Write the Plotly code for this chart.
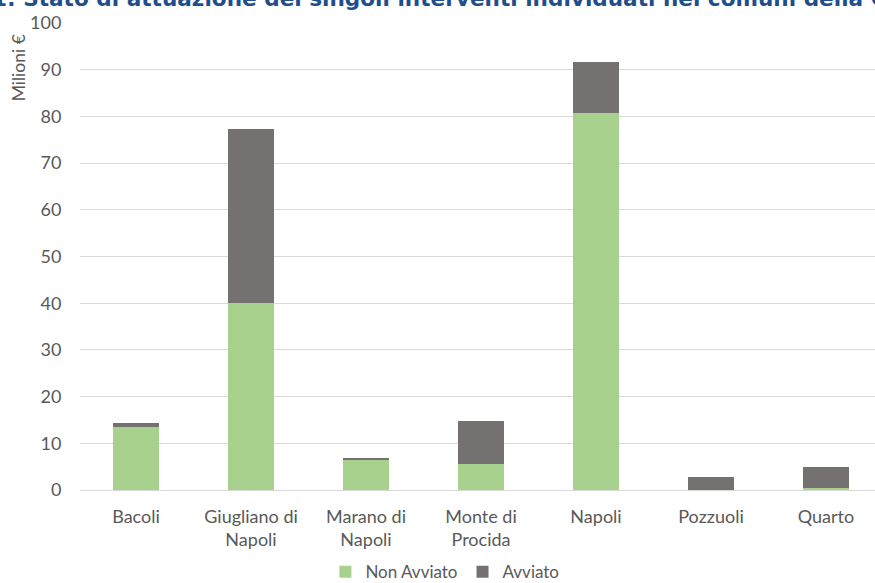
import plotly.graph_objects as go

# Comuni and amounts (milioni di euro) per stato di attuazione
comuni = ["Bacoli", "Giugliano di<br>Napoli", "Marano di<br>Napoli", "Monte di<br>Procida",
          "Napoli", "Pozzuoli", "Quarto"]
non_avviato = [13.4, 40.0, 6.4, 5.6, 80.7, 0.0, 0.4]
avviato = [1.0, 37.3, 0.5, 9.2, 10.9, 2.8, 4.6]
y_ticks = [0, 10, 20, 30, 40, 50, 60, 70, 80, 90, 100]

GREEN = "#A9D18E"
GREY = "#767171"
TEXT = "#595959"
FONT = "Lato"

fig = go.Figure()
fig.add_trace(go.Bar(x=comuni, y=non_avviato, name="Non Avviato",
                     marker=dict(color=GREEN, line=dict(width=0)), width=0.4))
fig.add_trace(go.Bar(x=comuni, y=avviato, name="Avviato",
                     marker=dict(color=GREY, line=dict(width=0)), width=0.4))

fig.update_layout(
    width=875, height=583,
    barmode="stack",
    plot_bgcolor="white", paper_bgcolor="white",
    margin=dict(l=80, r=0, t=23, b=93, autoexpand=False),
    font=dict(family=FONT, size=18, color=TEXT),
    showlegend=True,
    legend=dict(orientation="h", xref="paper", yref="paper",
                x=0.459, xanchor="center", y=-0.176, yanchor="middle",
                bgcolor="rgba(0,0,0,0)",
                font=dict(family=FONT, size=17, color=TEXT),
                itemwidth=30, traceorder="normal"),
    xaxis=dict(range=[-0.487, 6.426], showgrid=False, showline=False,
               automargin=False, tickangle=0,
               ticks="outside", ticklen=10, tickcolor="rgba(0,0,0,0)",
               tickfont=dict(family=FONT, size=18, color=TEXT)),
    yaxis=dict(range=[0, 100], tickvals=y_ticks, showgrid=True,
               automargin=False,
               gridcolor="#D9D9D9", gridwidth=1, zeroline=True,
               zerolinecolor="#D9D9D9", zerolinewidth=1, showline=False,
               ticks="outside", ticklen=14, tickcolor="rgba(0,0,0,0)",
               tickfont=dict(family=FONT, size=18, color=TEXT)),
)

# Asse y: unità di misura
fig.add_annotation(text="Milioni €", textangle=-90, xref="paper", yref="paper",
                   x=-0.078, xanchor="center", y=0.905, yanchor="middle",
                   showarrow=False, font=dict(family=FONT, size=17.5, color=TEXT))

# Titolo della figura
fig.add_annotation(text="<b>1: Stato di attuazione dei singoli interventi individuati nei comuni della Città Metropolitana</b>",
                   xref="paper", yref="paper", x=-0.113, xanchor="left",
                   y=1.0525, yanchor="middle", showarrow=False,
                   font=dict(family="DejaVu Sans", size=21.6, color="#1F4E8C"))

fig.write_html("out.html")
